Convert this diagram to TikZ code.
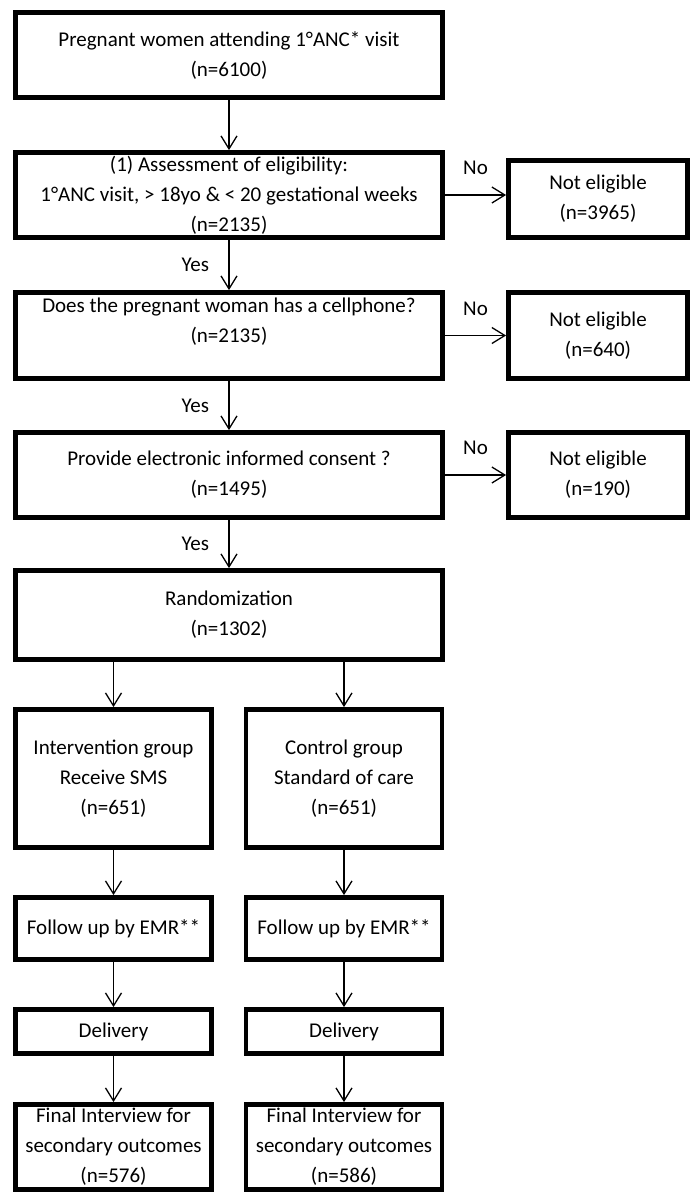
\documentclass[tikz,border=0pt]{standalone}
\usepackage{fontspec}
\setmainfont{Carlito}
\usetikzlibrary{positioning,arrows.meta}

\begin{document}
\begin{tikzpicture}[x=1pt, y=-1pt, every node/.style={font=\fontsize{21}{30}\selectfont}]
\tikzstyle{box}=[draw, line width=4.8pt, align=center, inner sep=0pt]
\tikzstyle{wide}=[box, minimum width=427pt]
\tikzstyle{side}=[box, minimum width=179pt]
\tikzstyle{arm}=[box, minimum width=196pt]
\tikzstyle{arr}=[-{Straight Barb[length=13pt, width=16pt]}, line width=1.3pt]
\useasboundingbox (0,0) rectangle (694,1195);
% screening chain
\node[wide, minimum height=85pt] (start) at (229,55) {Pregnant women attending 1°ANC* visit\\(n=6100)};
\node[wide, minimum height=85pt] (elig) at (229,195) {(1) Assessment of eligibility:\\1°ANC visit, > 18yo \& < 20 gestational weeks\\(n=2135)};
\node[side, minimum height=77pt] (ne1) at (598,199) {Not eligible\\(n=3965)};
\node[wide, minimum height=86pt] (phone) at (229,335.5) {Does the pregnant woman has a cellphone?\\(n=2135)\\\mbox{}};
\node[side, minimum height=86pt] (ne2) at (598,335.5) {Not eligible\\(n=640)};
\node[wide, minimum height=85pt] (consent) at (229,475) {Provide electronic informed consent ?\\(n=1495)};
\node[side, minimum height=85pt] (ne3) at (598,475) {Not eligible\\(n=190)};
\node[wide, minimum height=89pt] (rand) at (229,615) {Randomization\\(n=1302)};
% two arms
\node[arm, minimum height=138pt] (ig) at (113.5,778.5) {Intervention group\\Receive SMS\\(n=651)};
\node[arm, minimum height=138pt] (cg) at (344,778.5) {Control group\\Standard of care\\(n=651)};
\node[arm, minimum height=62pt] (fu1) at (113.5,928.5) {Follow up by EMR**};
\node[arm, minimum height=62pt] (fu2) at (344,928.5) {Follow up by EMR**};
\node[arm, minimum height=44pt] (del1) at (113.5,1031.5) {Delivery};
\node[arm, minimum height=44pt] (del2) at (344,1031.5) {Delivery};
\node[arm, minimum height=85pt] (fin1) at (113.5,1147) {Final Interview for\\secondary outcomes\\(n=576)};
\node[arm, minimum height=85pt] (fin2) at (344,1147) {Final Interview for\\secondary outcomes\\(n=586)};
% connectors
\draw[arr] (start) -- (elig);
\draw[arr] (elig) -- (phone) node[midway, left=16pt] {Yes};
\draw[arr] (phone) -- (consent) node[midway, left=16pt] {Yes};
\draw[arr] (consent) -- (rand) node[midway, left=16pt] {Yes};
\draw[arr] (elig.east) -- (elig.east -| ne1.west) node[midway, above=16pt] {No};
\draw[arr] (phone.east) -- (phone.east -| ne2.west) node[midway, above=16pt] {No};
\draw[arr] (consent.east) -- (consent.east -| ne3.west) node[midway, above=16pt] {No};
\draw[arr] (rand.south -| ig.north) -- (ig.north);
\draw[arr] (rand.south -| cg.north) -- (cg.north);
\draw[arr] (ig) -- (fu1); \draw[arr] (fu1) -- (del1); \draw[arr] (del1) -- (fin1);
\draw[arr] (cg) -- (fu2); \draw[arr] (fu2) -- (del2); \draw[arr] (del2) -- (fin2);
\end{tikzpicture}
\end{document}
